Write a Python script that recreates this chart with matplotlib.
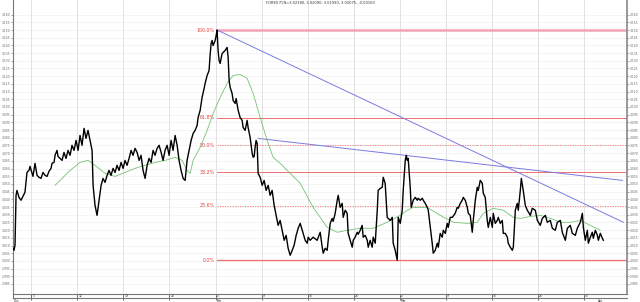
import numpy as np
import matplotlib.pyplot as plt
from matplotlib.transforms import blended_transform_factory

# trading-day index (0 = first bar) and PLN quote
price_day = [0.00, 0.11, 0.22, 0.33, 0.43, 0.65, 0.87, 1.09, 1.30, 1.52, 1.74, 1.85, 2.07, 2.17, 2.39, 2.61,
             2.83, 3.04, 3.26, 3.48, 3.70, 3.91, 4.13, 4.24, 4.46, 4.57, 4.78, 4.89, 5.11, 5.33, 5.54, 5.76,
             5.98, 6.20, 6.41, 6.63, 6.85, 7.07, 7.28, 7.50, 7.72, 7.93, 8.15, 8.37, 8.59, 8.70, 8.91, 9.13,
             9.35, 9.57, 9.78, 10.00, 10.22, 10.43, 10.65, 10.87, 11.09, 11.30, 11.52, 11.74, 11.96, 12.17,
             12.39, 12.61, 12.83, 13.04, 13.26, 13.48, 13.70, 13.91, 14.13, 14.35, 14.57, 14.78, 15.00, 15.22,
             15.43, 15.65, 15.87, 16.09, 16.30, 16.52, 16.74, 16.96, 17.17, 17.39, 17.61, 17.83, 18.04, 18.26,
             18.48, 18.70, 18.91, 19.13, 19.35, 19.57, 19.78, 20.00, 20.11, 20.33, 20.54, 20.76, 20.87, 21.09,
             21.30, 21.41, 21.52, 21.63, 21.74, 21.96, 22.07, 22.17, 22.28, 22.39, 22.50, 22.72, 22.83, 23.04,
             23.26, 23.37, 23.48, 23.59, 23.80, 23.91, 24.13, 24.24, 24.46, 24.67, 24.89, 25.00, 25.22, 25.43,
             25.54, 25.76, 25.98, 26.09, 26.20, 26.30, 26.41, 26.52, 26.63, 26.85, 27.07, 27.28, 27.50, 27.72,
             27.93, 28.15, 28.37, 28.59, 28.80, 29.02, 29.24, 29.46, 29.67, 29.89, 30.11, 30.33, 30.54, 30.76,
             30.98, 31.20, 31.52, 31.74, 31.96, 32.07, 32.28, 32.61, 33.04, 33.37, 33.59, 33.70, 33.91, 34.13,
             34.24, 34.46, 34.67, 34.78, 35.00, 35.22, 35.33, 35.54, 35.76, 35.87, 36.09, 36.30, 36.41, 36.63,
             36.85, 36.96, 37.17, 37.39, 37.50, 37.72, 37.93, 38.04, 38.26, 38.48, 38.59, 38.80, 39.02, 39.13,
             39.35, 39.57, 39.67, 39.89, 40.11, 40.22, 40.43, 40.65, 40.76, 40.98, 41.20, 41.30, 41.52, 41.74,
             41.85, 42.07, 42.28, 42.39, 42.61, 42.72, 42.83, 42.93, 43.15, 43.26, 43.48, 43.70, 43.91, 44.02,
             44.24, 44.46, 44.57, 44.78, 45.00, 45.11, 45.33, 45.54, 45.65, 45.87, 46.09, 46.20, 46.41, 46.63,
             46.74, 46.96, 47.17, 47.28, 47.50, 47.72, 48.04, 48.26, 48.37, 48.59, 48.80, 48.91, 49.13, 49.35,
             49.46, 49.67, 49.89, 50.00, 50.22, 50.43, 50.54, 50.76, 50.98, 51.09, 51.30, 51.52, 51.63, 51.85,
             52.07, 52.17, 52.39, 52.61, 52.72, 52.93, 53.15, 53.26, 53.48, 53.70, 53.80, 54.02, 54.24, 54.35,
             54.57, 54.78, 54.89, 55.11, 55.22, 55.43, 55.65, 55.87, 56.20, 56.41, 56.74, 56.96, 57.28, 57.50,
             57.83, 58.04, 58.37, 58.59, 58.91, 59.13, 59.46, 59.67, 60.00, 60.22, 60.54, 60.76, 61.09, 61.30,
             61.63, 61.85, 61.96, 62.17, 62.39, 62.50, 62.72, 62.93, 63.04, 63.26, 63.48, 63.59, 63.80, 64.02,
             64.13]
price = [3.0082, 3.0069, 3.0102, 3.0426, 3.0458, 3.0413, 3.0394, 3.0420, 3.0446, 3.0575, 3.0588, 3.0614,
         3.0569, 3.0549, 3.0634, 3.0556, 3.0543, 3.0536, 3.0575, 3.0556, 3.0549, 3.0582, 3.0601, 3.0634,
         3.0640, 3.0686, 3.0718, 3.0679, 3.0666, 3.0653, 3.0705, 3.0666, 3.0718, 3.0686, 3.0751, 3.0718,
         3.0783, 3.0718, 3.0815, 3.0751, 3.0861, 3.0796, 3.0848, 3.0783, 3.0718, 3.0491, 3.0361, 3.0296,
         3.0394, 3.0491, 3.0536, 3.0510, 3.0556, 3.0588, 3.0556, 3.0601, 3.0575, 3.0621, 3.0588, 3.0640,
         3.0601, 3.0653, 3.0621, 3.0666, 3.0718, 3.0686, 3.0731, 3.0705, 3.0653, 3.0686, 3.0588, 3.0536,
         3.0621, 3.0666, 3.0640, 3.0718, 3.0686, 3.0731, 3.0751, 3.0705, 3.0653, 3.0718, 3.0751, 3.0686,
         3.0783, 3.0718, 3.0815, 3.0751, 3.0653, 3.0588, 3.0536, 3.0523, 3.0653, 3.0718, 3.0783, 3.0828,
         3.0848, 3.0880, 3.0932, 3.0978, 3.1062, 3.1120, 3.1153, 3.1205, 3.1237, 3.1335, 3.1412, 3.1432,
         3.1399, 3.1432, 3.1464, 3.1500, 3.1367, 3.1302, 3.1283, 3.1347, 3.1354, 3.1367, 3.1387, 3.1322,
         3.1172, 3.1127, 3.1088, 3.1043, 3.1023, 3.1055, 3.0978, 3.0932, 3.0913, 3.0867, 3.0848, 3.0913,
         3.0867, 3.0802, 3.0699, 3.0673, 3.0679, 3.0738, 3.0783, 3.0764, 3.0569, 3.0543, 3.0491, 3.0523,
         3.0458, 3.0491, 3.0426, 3.0458, 3.0361, 3.0296, 3.0231, 3.0263, 3.0199, 3.0134, 3.0166, 3.0082,
         3.0037, 3.0069, 3.0102, 3.0166, 3.0212, 3.0244, 3.0179, 3.0134, 3.0115, 3.0154, 3.0134, 3.0154,
         3.0134, 3.0186, 3.0089, 3.0050, 3.0082, 3.0069, 3.0134, 3.0244, 3.0276, 3.0257, 3.0309, 3.0394,
         3.0426, 3.0348, 3.0374, 3.0283, 3.0329, 3.0309, 3.0179, 3.0134, 3.0089, 3.0134, 3.0154, 3.0186,
         3.0173, 3.0199, 3.0231, 3.0154, 3.0166, 3.0134, 3.0089, 3.0134, 3.0089, 3.0154, 3.0115, 3.0329,
         3.0458, 3.0471, 3.0478, 3.0543, 3.0504, 3.0283, 3.0276, 3.0263, 3.0283, 3.0115, 3.0069, 3.0005,
         3.0283, 3.0244, 3.0329, 3.0458, 3.0653, 3.0686, 3.0653, 3.0666, 3.0478, 3.0348, 3.0394, 3.0413,
         3.0394, 3.0407, 3.0394, 3.0407, 3.0394, 3.0374, 3.0348, 3.0329, 3.0218, 3.0115, 3.0050, 3.0069,
         3.0115, 3.0089, 3.0179, 3.0154, 3.0199, 3.0179, 3.0244, 3.0218, 3.0283, 3.0283, 3.0309, 3.0348,
         3.0342, 3.0374, 3.0394, 3.0413, 3.0394, 3.0348, 3.0309, 3.0296, 3.0186, 3.0263, 3.0394, 3.0478,
         3.0458, 3.0523, 3.0504, 3.0439, 3.0413, 3.0263, 3.0218, 3.0283, 3.0218, 3.0309, 3.0244, 3.0263,
         3.0283, 3.0244, 3.0263, 3.0179, 3.0179, 3.0154, 3.0115, 3.0089, 3.0069, 3.0089, 3.0329, 3.0374,
         3.0329, 3.0458, 3.0536, 3.0458, 3.0361, 3.0329, 3.0296, 3.0342, 3.0329, 3.0263, 3.0231, 3.0276,
         3.0296, 3.0251, 3.0263, 3.0212, 3.0199, 3.0251, 3.0263, 3.0186, 3.0134, 3.0212, 3.0231, 3.0179,
         3.0166, 3.0212, 3.0251, 3.0309, 3.0218, 3.0134, 3.0199, 3.0115, 3.0154, 3.0186, 3.0147, 3.0199,
         3.0166, 3.0134, 3.0179, 3.0147, 3.0134]

# moving average (green)
ma_day = [4.57, 5.33, 6.20, 7.28, 8.15, 8.91, 10.00, 11.09, 12.17, 13.26, 14.35, 15.43, 16.52, 17.61, 18.37,
          18.91, 19.24, 19.57, 20.33, 21.09, 21.74, 22.50, 23.26, 23.91, 24.67, 25.43, 26.09, 26.85, 27.61,
          28.26, 29.02, 30.11, 31.20, 32.61, 34.13, 35.22, 36.30, 37.72, 39.13, 40.65, 42.07, 42.83, 43.48,
          45.00, 46.41, 47.83, 49.35, 50.43, 51.09, 52.17, 53.26, 54.35, 55.11, 56.20, 57.28, 58.37, 59.46,
          60.54, 61.63, 62.72, 63.80]
ma = [3.0491, 3.0536, 3.0588, 3.0640, 3.0653, 3.0621, 3.0569, 3.0549, 3.0575, 3.0601, 3.0621, 3.0640,
      3.0653, 3.0673, 3.0653, 3.0588, 3.0569, 3.0653, 3.0738, 3.0848, 3.0958, 3.1062, 3.1153, 3.1205,
      3.1211, 3.1186, 3.1088, 3.0932, 3.0783, 3.0673, 3.0634, 3.0569, 3.0504, 3.0348, 3.0218, 3.0186,
      3.0199, 3.0212, 3.0212, 3.0251, 3.0296, 3.0329, 3.0348, 3.0348, 3.0296, 3.0251, 3.0244, 3.0251,
      3.0309, 3.0342, 3.0329, 3.0283, 3.0276, 3.0289, 3.0296, 3.0276, 3.0251, 3.0251, 3.0263, 3.0231,
      3.0199]

# trend lines (start, end)
trend1_day = [22.17, 66.30]
trend1 = [3.1500, 3.0251]
trend2_day = [26.63, 66.20]
trend2 = [3.0796, 3.0523]

# fibonacci retracement
fib_high = 3.1500
fib_low = 3.0005
fib_start = 22.17
fib_levels = [1.0, 0.618, 0.5, 0.382, 0.236, 0.0]
fib_labels = ["100.0%", "61.8%", "50.0%", "38.2%", "23.6%", "0.0%"]

# x axis: weekly ticks
week_ticks = [2, 7, 12, 17, 22, 27, 32, 37, 42, 47, 52, 57, 62]
week_labels = ["5", "12", "19", "26", "2", "9", "16", "23", "2", "9", "16", "23", "30"]
month_pos = [0, 22, 42, 63.5]
month_labels = ["Dec", "Feb", "Mar", "Apr"]

yticks = np.round(np.arange(2.985, 3.1601, 0.005), 3)

fig = plt.figure(figsize=(6.4, 3.02), dpi=100)
ax = fig.add_axes([13/640, 8/302, 614/640, 294/302])
ax.set_xlim(0, 66.7)
ax.set_ylim(2.9785, 3.1695)

for yv in yticks:
    ax.axhline(yv, color="#ececec", lw=0.4, zorder=0)
for xv in week_ticks:
    ax.axvline(xv, color="#d6d6d6", lw=0.5, zorder=0)

# fib levels
rng = fib_high - fib_low
for lev, lab in zip(fib_levels, fib_labels):
    yv = fib_low + lev * rng
    if lev == 1.0:
        ax.plot([fib_start, 66.7], [yv, yv], color="#f4a3b8", lw=1.8, zorder=1)
    elif lev in (0.5, 0.236):
        ax.plot([fib_start, 66.7], [yv, yv], color="#f07070", lw=0.6, ls=(0, (1.5, 1.5)), zorder=1)
    else:
        ax.plot([fib_start, 66.7], [yv, yv], color="#f07070", lw=0.7 if lev else 0.9, zorder=1)
    ax.text(fib_start - 0.3, yv, lab, color="#e84040", fontsize=3.4, ha="right", va="center")

ax.plot(trend1_day, trend1, color="#7a7ae0", lw=0.7, zorder=2)
ax.plot(trend2_day, trend2, color="#7a7ae0", lw=0.7, zorder=2)
ax.plot(ma_day, ma, color="#74c274", lw=0.6, zorder=3)
ax.plot(price_day, price, color="black", lw=1.0, zorder=4)

ax.set_yticks(yticks)
ax.set_yticklabels(["%.3f" % v for v in yticks])
ax.tick_params(axis="y", labelsize=2.2, length=1.2, width=0.4, colors="#666666",
               left=True, right=True, labelleft=True, labelright=True, pad=0.6)
ax.set_xticks(week_ticks)
ax.tick_params(axis="x", length=4, width=0.6, colors="#555555", labelbottom=False)

for side in ["left", "bottom"]:
    ax.spines[side].set_color("#777777")
    ax.spines[side].set_linewidth(0.8)
ax.spines["right"].set_color("#888888")
ax.spines["right"].set_linewidth(1.2)
ax.spines["top"].set_visible(False)

# date strip below the axis
ax.plot([0, 1], [-4/294, -4/294], transform=ax.transAxes, color="#777777", lw=0.8, clip_on=False)
trans = blended_transform_factory(ax.transData, ax.transAxes)
ax.plot([0, 0], [0, -4/294], transform=ax.transAxes, color="#555555", lw=0.6, clip_on=False)
for xv, lab in zip(week_ticks, week_labels):
    ax.text(xv + 0.15, -2/294, lab, transform=trans, fontsize=2.2, ha="left", va="center", color="#333333")
for xv, lab in zip(month_pos, month_labels):
    ax.text(xv + 0.1, -4.6/294, lab, transform=trans, fontsize=2.2, ha="left", va="top", color="#333333")

fig.text(0.5, 0.997, "FOREX PLN=3.02180, 3.02090, 3.01990, 3.02075, -0.00150", fontsize=2.6,
         ha="center", va="top", color="#333333")

fig.savefig("out.png", dpi=100)
